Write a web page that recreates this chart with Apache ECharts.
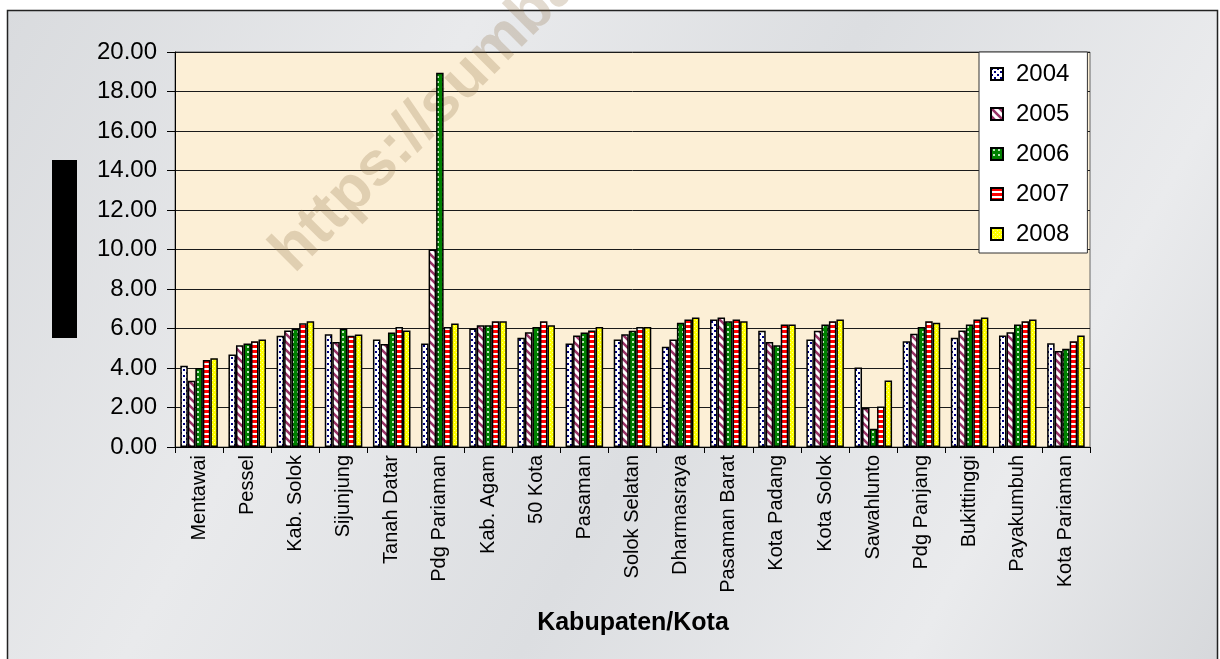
<!DOCTYPE html>
<html>
<head>
<meta charset="utf-8">
<title>Kabupaten/Kota</title>
<script src="https://cdn.jsdelivr.net/npm/echarts@6/dist/echarts.min.js"></script>
<style>
    html, body { margin: 0; padding: 0; background: #fff; }
    #echart1 { width: 1220px; height: 659px; }
</style>
</head>
<body>
<div id="echart1"></div>
<script>
var categories = ['Mentawai', 'Pessel', 'Kab. Solok', 'Sijunjung', 'Tanah Datar', 'Pdg Pariaman', 'Kab. Agam',
    '50 Kota', 'Pasaman', 'Solok Selatan', 'Dharmasraya', 'Pasaman Barat', 'Kota Padang', 'Kota Solok',
    'Sawahlunto', 'Pdg Panjang', 'Bukittinggi', 'Payakumbuh', 'Kota Pariaman'];
var years = ['2004', '2005', '2006', '2007', '2008'];
var v2004 = [4.11, 4.68, 5.63, 5.71, 5.44, 5.24, 6.00, 5.53, 5.24, 5.44, 5.07, 6.46, 5.88, 5.44, 4.02, 5.36, 5.53, 5.64, 5.25];
var v2005 = [3.35, 5.15, 5.90, 5.32, 5.22, 10.00, 6.17, 5.81, 5.65, 5.71, 5.44, 6.56, 5.32, 5.88, 1.97, 5.73, 5.90, 5.81, 4.86];
var v2006 = [4.00, 5.24, 6.00, 6.00, 5.80, 18.95, 6.17, 6.08, 5.80, 5.88, 6.29, 6.37, 5.15, 6.20, 0.92, 6.08, 6.20, 6.20, 4.97];
var v2007 = [4.40, 5.36, 6.27, 5.63, 6.08, 6.08, 6.37, 6.37, 5.90, 6.08, 6.46, 6.46, 6.20, 6.37, 2.05, 6.37, 6.46, 6.37, 5.36];
var v2008 = [4.50, 5.44, 6.37, 5.70, 5.90, 6.25, 6.37, 6.17, 6.08, 6.08, 6.56, 6.37, 6.20, 6.46, 3.37, 6.29, 6.56, 6.46, 5.64];
var seriesValues = [v2004, v2005, v2006, v2007, v2008];

var fontName = '"Liberation Sans", Arial, sans-serif';

// small canvas tiles used as bar fills (excel style patterns)
function makeTile(w, h, draw) {
    var c = document.createElement('canvas');
    c.width = w;
    c.height = h;
    draw(c.getContext('2d'));
    return { image: c, repeat: 'repeat' };
}

var patterns = [
    // 2004 - blue dots on white
    makeTile(6, 6, function (g) {
        g.fillStyle = '#fff'; g.fillRect(0, 0, 6, 6);
        g.fillStyle = '#000080';
        g.fillRect(0, 0, 2, 2);
        g.fillRect(3, 3, 2, 2);
    }),
    // 2005 - purple diagonal stripes
    makeTile(8, 8, function (g) {
        g.fillStyle = '#fff'; g.fillRect(0, 0, 8, 8);
        g.strokeStyle = '#993366';
        g.lineWidth = 2.6;
        g.beginPath();
        g.moveTo(-2, -2); g.lineTo(10, 10);
        g.moveTo(-2, 6); g.lineTo(2, 10);
        g.moveTo(6, -2); g.lineTo(10, 2);
        g.stroke();
    }),
    // 2006 - green with light squares
    makeTile(5, 5, function (g) {
        g.fillStyle = '#008000'; g.fillRect(0, 0, 5, 5);
        g.fillStyle = '#b8e6b8';
        g.fillRect(2, 1, 2, 2);
    }),
    // 2007 - red / white horizontal stripes
    makeTile(4, 5, function (g) {
        g.fillStyle = '#ff0000'; g.fillRect(0, 0, 4, 5);
        g.fillStyle = '#fff';
        g.fillRect(0, 3, 4, 2);
    }),
    // 2008 - yellow light check
    makeTile(4, 4, function (g) {
        g.fillStyle = '#ffff00'; g.fillRect(0, 0, 4, 4);
        g.fillStyle = '#ffff99';
        g.fillRect(0, 0, 1, 1);
        g.fillRect(2, 2, 1, 1);
    })
];

var myChart1 = echarts.init(document.getElementById('echart1'));

var seriesList = [];
for (var i = 0; i < years.length; i++) {
    seriesList.push({
        name: years[i],
        type: 'bar',
        data: seriesValues[i],
        barGap: '0%',
        barCategoryGap: '22%',
        itemStyle: {
            color: patterns[i],
            borderColor: '#000',
            borderWidth: 1.5
        },
        z: 5
    });
}

var option1 = {
    animation: false,
    backgroundColor: '#fff',
    graphic: [
        {
            // marble-like frame
            type: 'rect',
            z: -10,
            shape: { x: 7.5, y: 10.5, width: 1210, height: 660 },
            style: {
                fill: new echarts.graphic.LinearGradient(0, 0, 1, 1, [
                    { offset: 0, color: '#d9dbde' },
                    { offset: 0.3, color: '#e9eaec' },
                    { offset: 0.55, color: '#dcdee1' },
                    { offset: 0.8, color: '#eaebed' },
                    { offset: 1, color: '#d6d8db' }
                ]),
                stroke: '#222',
                lineWidth: 1.5
            }
        },
        {
            // redacted axis title block
            type: 'rect',
            z: 10,
            shape: { x: 52, y: 160, width: 25, height: 178 },
            style: { fill: '#000' }
        },
        {
            type: 'text',
            z: 3,
            x: 304,
            y: 284,
            rotation: Math.PI / 4,
            style: {
                text: 'https://sumbar.bps.go.id',
                fill: 'rgba(140,105,60,0.24)',
                font: 'bold 62px ' + fontName,
                textAlign: 'left',
                textVerticalAlign: 'bottom'
            }
        },
        {
            type: 'text',
            z: 10,
            x: 633,
            y: 623,
            style: {
                text: 'Kabupaten/Kota',
                fill: '#000',
                font: 'bold 25px ' + fontName,
                textAlign: 'center',
                textVerticalAlign: 'middle'
            }
        }
    ],
    legend: {
        orient: 'vertical',
        left: 979,
        top: 52,
        padding: [10, 18, 7, 11],
        itemGap: 16,
        itemWidth: 12,
        itemHeight: 12,
        icon: 'rect',
        backgroundColor: '#fff',
        borderColor: '#333',
        borderWidth: 1,
        borderRadius: 0,
        textStyle: {
            color: '#000',
            fontSize: 24,
            fontFamily: fontName,
            padding: [0, 0, 0, 8]
        },
        data: years
    },
    grid: {
        left: 175,
        right: 130,
        top: 52,
        bottom: 212,
        show: true,
        backgroundColor: '#fcefd6',
        borderColor: '#666',
        borderWidth: 1
    },
    xAxis: {
        type: 'category',
        data: categories,
        axisLine: { show: true, lineStyle: { color: '#000', width: 1 } },
        axisTick: { show: true, length: 6, interval: 0, lineStyle: { color: '#000' } },
        axisLabel: {
            interval: 0,
            rotate: 90,
            margin: 8,
            color: '#000',
            fontSize: 20,
            fontFamily: fontName
        }
    },
    yAxis: {
        type: 'value',
        min: 0,
        max: 20,
        interval: 2,
        axisLine: { show: true, lineStyle: { color: '#000', width: 1 } },
        axisTick: { show: true, length: 8, lineStyle: { color: '#000' } },
        splitLine: { show: true, lineStyle: { color: '#1a1a1a', width: 1 } },
        axisLabel: {
            margin: 18,
            color: '#000',
            fontSize: 24,
            fontFamily: fontName,
            formatter: function (v) { return v.toFixed(2); }
        }
    },
    series: seriesList
};

myChart1.setOption(option1);

window.addEventListener("resize", function () {
    myChart1.resize();
});
</script>
</body>
</html>
